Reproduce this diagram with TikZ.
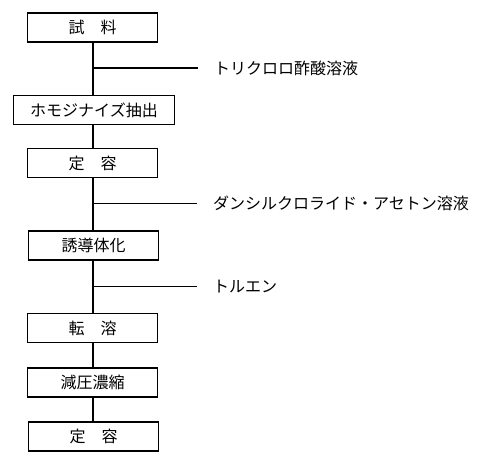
\documentclass[tikz,border=0pt]{standalone}
\usepackage{fontspec}
\newfontfamily\jpfont{Noto Sans CJK JP}
\tikzset{
  stepbox/.style={draw,line width=1.2pt,minimum width=130pt,minimum height=29pt,
    inner sep=0pt,font=\jpfont\fontsize{16}{16}\selectfont},
  reagent/.style={anchor=west,inner sep=0pt,font=\jpfont\fontsize{16}{16}\selectfont},
  flow/.style={line width=1.2pt}
}
\begin{document}
\begin{tikzpicture}[x=1pt,y=-1pt]
\useasboundingbox (0,0) rectangle (500,460);
% process steps
\node[stepbox] (sample) at (92.5,27.5) {試　料};
\node[stepbox,minimum width=161pt] (homo) at (94,110) {ホモジナイズ抽出};
\node[stepbox] (vol1) at (92.5,163) {定　容};
\node[stepbox] (deriv) at (93.5,245.5) {誘導体化};
\node[stepbox] (trans) at (92.5,328) {転　溶};
\node[stepbox] (conc) at (92.5,382.5) {減圧濃縮};
\node[stepbox] (vol2) at (93.5,436.5) {定　容};
% reagents
\node[reagent] (tca) at (214,68) {トリクロロ酢酸溶液};
\node[reagent] (dns) at (213,203.5) {ダンシルクロライド・アセトン溶液};
\node[reagent] (tol) at (213,286.5) {トルエン};
\coordinate (j1) at (93,68);
\coordinate (j2) at (93,203.5);
\coordinate (j3) at (93,286.5);
\coordinate (e1) at (198,68);
\coordinate (e2) at (197,203.5);
\coordinate (e3) at (197,286.5);
% main line
\draw[flow] (sample.south -| j1) -- (homo.north -| j1);
\draw[flow] (homo.south -| j1) -- (vol1.north -| j1);
\draw[flow] (vol1.south -| j1) -- (deriv.north -| j1);
\draw[flow] (deriv.south -| j1) -- (trans.north -| j1);
\draw[flow] (trans.south -| j1) -- (conc.north -| j1);
\draw[flow] (conc.south -| j1) -- (vol2.north -| j1);
% branches
\draw[flow] (j1) -- (e1);
\draw[flow] (j2) -- (e2);
\draw[flow] (j3) -- (e3);
\end{tikzpicture}
\end{document}
